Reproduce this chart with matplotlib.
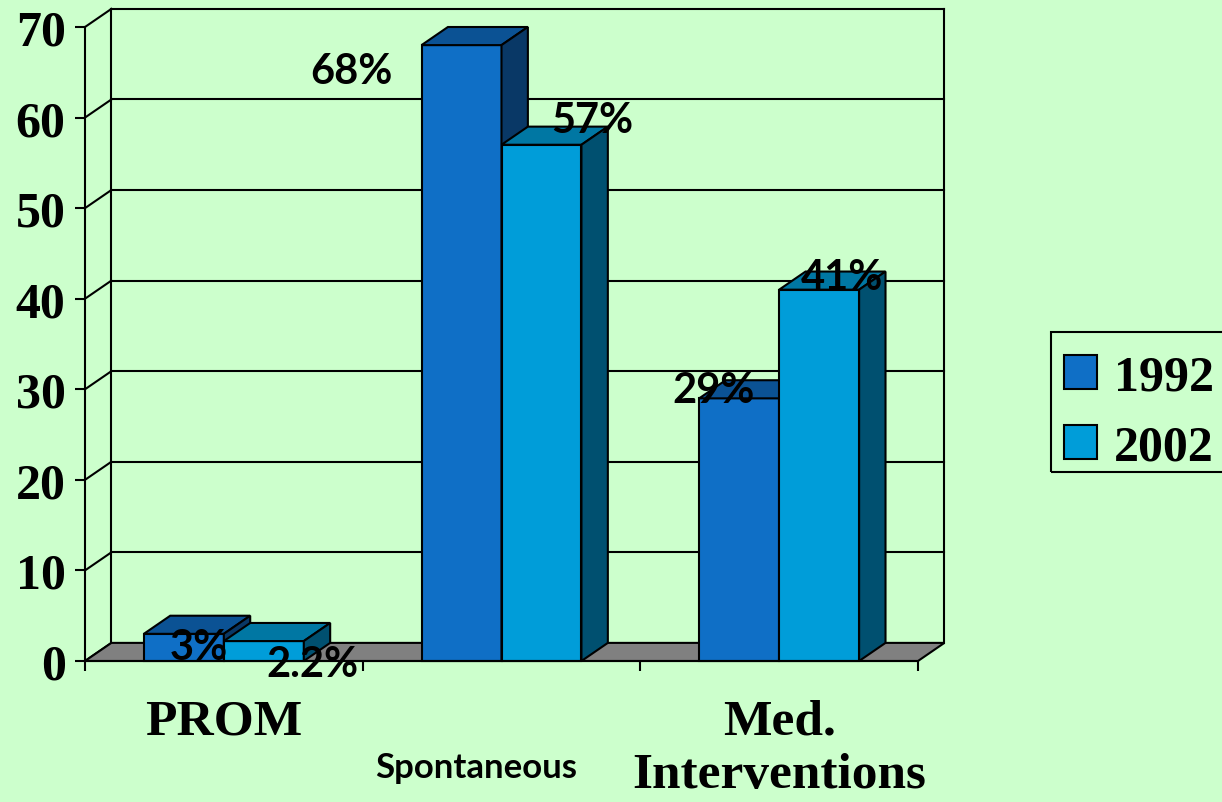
import matplotlib
matplotlib.use('Agg')
import matplotlib.pyplot as plt
from matplotlib.patches import Polygon, Patch, Rectangle
from matplotlib.transforms import blended_transform_factory
import numpy as np

categories = ['PROM', 'Spontaneous', 'Med.\nInterventions']
years = ['1992', '2002']
values_1992 = [3, 68, 29]
values_2002 = [2.2, 57, 41]
labels_1992 = ['3%', '68%', '29%']
labels_2002 = ['2.2%', '57%', '41%']
yticks = [0, 10, 20, 30, 40, 50, 60, 70]

# label nudges in pixels (hand placed in the original slide)
offsets_1992 = [(15, -13), (-110, -26), (-26, 8)]
offsets_2002 = [(49, -23), (51, 25), (23, 13)]

bg = '#CCFFCC'
front_cols = ['#0F6FC6', '#009DD9']
top_cols = ['#0B5294', '#0077A3']
side_cols = ['#093866', '#005070']

serif = ['Liberation Serif', 'DejaVu Serif']
sans = ['Lato', 'DejaVu Sans']

fig = plt.figure(figsize=(12.22, 8.03), dpi=100, facecolor=bg)
ax = fig.add_axes([85/1222, 1-662/803, (918-85)/1222, (662-28)/803])
ax.set_facecolor('none')
ax.set_xlim(-0.5, 2.5)
ax.set_ylim(0, 70)

dx, dy = 0.095, 2.0   # depth of the 3d box
lw = 1.5

# walls and grid
x0, x1 = -0.5 + dx, 2.5 + dx
for v in yticks:
    ax.plot([-0.5, x0], [v, v + dy], color='black', lw=lw, clip_on=False, zorder=1)
    if v > 0:
        ax.plot([x0, x1], [v + dy, v + dy], color='black', lw=lw, clip_on=False, zorder=1)
ax.plot([x0, x0], [dy, 70 + dy], color='black', lw=lw, clip_on=False, zorder=1)
ax.plot([x1, x1], [dy, 70 + dy], color='black', lw=lw, clip_on=False, zorder=1)
floor = Polygon([(-0.5, 0), (2.5, 0), (x1, dy), (x0, dy)], closed=True,
                facecolor='#808080', edgecolor='black', lw=lw, clip_on=False, zorder=2)
ax.add_patch(floor)

# bars
w = 0.288
x = np.arange(len(categories))
series = [values_1992, values_2002]
for k, vals in enumerate(series):
    xs = x + (k - 0.5) * w
    bars = ax.bar(xs, vals, width=w, color=front_cols[k], edgecolor='black',
                  lw=lw, zorder=3 + 2 * k, clip_on=False)
    for b, v in zip(bars, vals):
        l, r = b.get_x(), b.get_x() + b.get_width()
        top = Polygon([(l, v), (r, v), (r + dx, v + dy), (l + dx, v + dy)],
                      facecolor=top_cols[k], edgecolor='black', lw=lw,
                      clip_on=False, zorder=3 + 2 * k)
        side = Polygon([(r, 0), (r + dx, dy), (r + dx, v + dy), (r, v)],
                       facecolor=side_cols[k], edgecolor='black', lw=lw,
                       clip_on=False, zorder=3 + 2 * k)
        ax.add_patch(top)
        ax.add_patch(side)

# data labels
for k, (labs, offs) in enumerate([(labels_1992, offsets_1992), (labels_2002, offsets_2002)]):
    vals = series[k]
    for i in range(len(categories)):
        ax.annotate(labs[i], (x[i] + (k - 0.5) * w, vals[i]), xytext=offs[i],
                    textcoords='offset pixels', ha='center', va='center',
                    fontsize=30, fontweight='bold', family=sans, zorder=10,
                    annotation_clip=False)

# axes
for s in ['top', 'right']:
    ax.spines[s].set_visible(False)
for s in ['left', 'bottom']:
    ax.spines[s].set_linewidth(lw)
    ax.spines[s].set_zorder(6)
ax.set_yticks(yticks)
ax.set_yticklabels([str(t) for t in yticks], fontsize=36, fontweight='bold', family=serif)
ax.set_xticks([-0.5, 0.5, 1.5, 2.5])
ax.set_xticklabels([])
ax.tick_params(axis='both', length=7, width=lw, color='black', pad=7)

# category labels
tr = blended_transform_factory(ax.transData, fig.transFigure)
ax.text(x[0], 1 - 700/803, categories[0], transform=tr, ha='center', va='top',
        fontsize=37, fontweight='bold', family=serif)
ax.text(x[1] - 0.09, 1 - 768/803, categories[1], transform=tr, ha='center', va='center',
        fontsize=25, fontweight='bold', family=sans)
ax.text(x[2], 1 - 700/803, categories[2], transform=tr, ha='center', va='top',
        fontsize=37, fontweight='bold', family=serif, linespacing=1.2)

# legend (frame drawn separately so the rows sit like the original)
handles = [Patch(facecolor=front_cols[k], edgecolor='black', lw=lw) for k in range(2)]
fig.legend(handles, years, loc='upper left', bbox_to_anchor=(1051/1222, 1-343/803),
           borderaxespad=0, frameon=False, handlelength=0.66, handleheight=0.66,
           handletextpad=0.34, borderpad=0.25, labelspacing=0.48,
           prop={'family': serif, 'weight': 'bold', 'size': 36})
fig.add_artist(Rectangle((1051/1222, 1-473/803), 200/1222, 140/803, transform=fig.transFigure,
                         facecolor='none', edgecolor='black', lw=lw))

fig.savefig('out.png', dpi=100, facecolor=bg)
